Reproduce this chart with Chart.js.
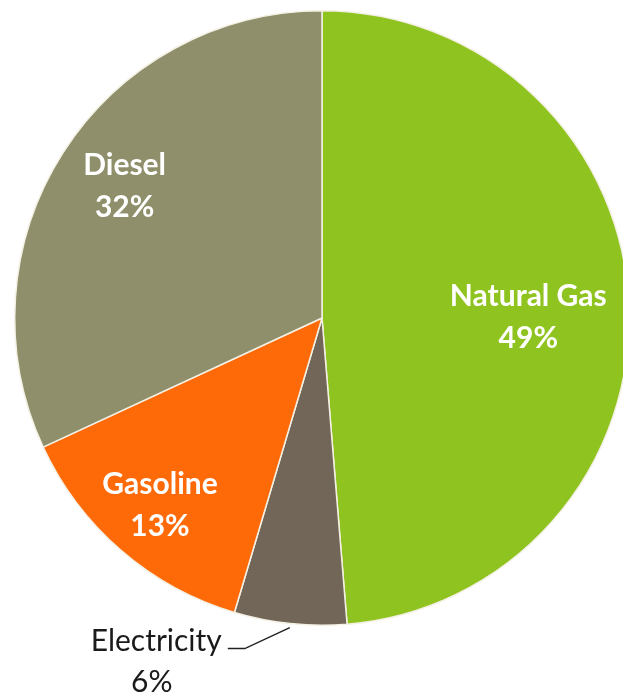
<!DOCTYPE html>
<html>
<head>
<meta charset="utf-8">
<script src="https://cdn.jsdelivr.net/npm/chart.js@4/dist/chart.umd.min.js"></script>
<style>
  html, body { margin: 0; padding: 0; background: #fff; overflow: hidden; }
</style>
</head>
<body>
<canvas id="chart" width="644" height="700"></canvas>
<script>
const categories = ['Natural Gas', 'Electricity', 'Gasoline', 'Diesel'];
const shares = [48.7, 5.9, 13.5, 31.9];
const shareLabels = ['49%', '6%', '13%', '32%'];
const colors = ['#8fc31f', '#716657', '#ff6a09', '#8f8f6b'];

// label placement: fraction of radius (null = outside callout) and a small pixel nudge
const labelRadius = [0.672, null, 0.806, 0.77];
const labelNudge = [[0, 8], [0, 0], [0, 0], [2, -4]];

const sliceLabels = {
  id: 'sliceLabels',
  afterDatasetsDraw(chart) {
    const ctx = chart.ctx;
    const meta = chart.getDatasetMeta(0);
    ctx.save();
    ctx.textAlign = 'center';
    ctx.textBaseline = 'middle';
    meta.data.forEach((arc, i) => {
      const mid = (arc.startAngle + arc.endAngle) / 2;
      if (labelRadius[i] !== null) {
        const r = arc.outerRadius * labelRadius[i];
        const x = arc.x + Math.cos(mid) * r + labelNudge[i][0];
        const y = arc.y + Math.sin(mid) * r + labelNudge[i][1];
        ctx.fillStyle = '#ffffff';
        ctx.font = 'bold 30px Lato, "Open Sans", sans-serif';
        ctx.fillText(categories[i], x, y - 21);
        ctx.fillText(shareLabels[i], x, y + 21);
      } else {
        // callout below the pie
        const ex = arc.x + Math.cos(mid) * (arc.outerRadius + 4);
        const ey = arc.y + Math.sin(mid) * (arc.outerRadius + 4);
        ctx.strokeStyle = '#222';
        ctx.lineWidth = 1.5;
        ctx.beginPath();
        ctx.moveTo(ex, ey);
        ctx.lineTo(ex - 45, ey + 21);
        ctx.lineTo(ex - 62, ey + 21);
        ctx.stroke();
        ctx.fillStyle = '#1a1a1a';
        ctx.font = '30px Lato, "Open Sans", sans-serif';
        ctx.textAlign = 'right';
        ctx.fillText(categories[i], ex - 68, ey + 14);
        ctx.textAlign = 'center';
        ctx.fillText(shareLabels[i], ex - 138, ey + 55);
      }
    });
    ctx.restore();
  }
};

new Chart(document.getElementById('chart'), {
  type: 'pie',
  data: {
    labels: categories,
    datasets: [{
      data: shares,
      backgroundColor: colors,
      borderColor: '#f4f1e4',
      borderWidth: 1.5
    }]
  },
  options: {
    responsive: false,
    animation: false,
    layout: { padding: { top: 10, bottom: 74, left: 14, right: 14 } },
    plugins: { legend: { display: false }, tooltip: { enabled: false } }
  },
  plugins: [sliceLabels]
});
</script>
</body>
</html>
